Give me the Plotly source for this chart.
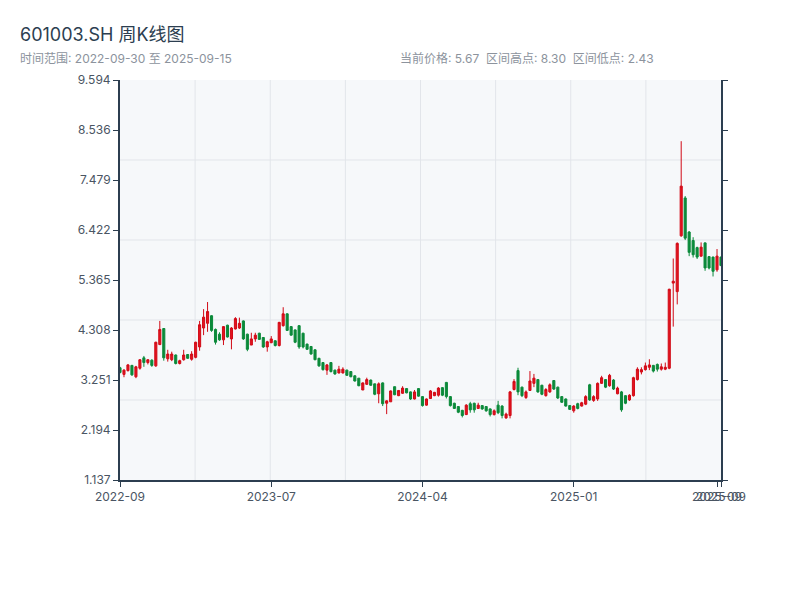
import plotly.graph_objects as go

# ---- data (weekly OHLC) ----
opens = [3.51,3.37,3.45,3.56,3.32,3.50,3.72,3.62,3.67,3.55,4.00,4.34,3.70,3.68,3.78,3.60,3.68,3.79,3.69,3.73,
         3.95,4.35,4.45,4.61,4.32,4.22,4.10,4.41,4.12,4.33,4.35,4.50,4.22,3.99,4.12,4.24,4.15,3.95,4.04,4.08,
         3.98,4.40,4.65,4.38,4.31,4.40,4.24,4.01,3.96,3.89,3.71,3.62,3.46,3.62,3.46,3.40,3.40,3.46,3.43,3.34,
         3.29,3.04,3.16,3.25,3.17,2.96,3.19,2.76,2.79,3.11,2.92,2.97,3.07,3.00,2.85,3.07,2.90,2.72,2.86,2.92,
         2.93,3.09,3.20,2.90,2.76,2.69,2.61,2.52,2.75,2.76,2.65,2.71,2.69,2.64,2.52,2.72,2.70,2.45,2.50,3.05,
         3.45,3.10,2.88,3.03,3.18,3.26,3.14,2.92,3.00,3.24,3.10,2.90,2.85,2.71,2.60,2.75,2.70,2.74,3.15,2.82,
         2.85,3.18,3.26,3.13,3.25,2.96,3.00,2.92,2.83,2.92,3.26,3.42,3.47,3.52,3.56,3.58,3.48,3.48,3.50,5.30,
         5.12,6.30,7.10,6.38,6.20,6.05,5.87,6.15,5.86,5.85,5.58,5.85]
highs = [3.53,3.48,3.59,3.57,3.55,3.69,3.76,3.69,3.69,4.06,4.50,4.35,3.89,3.85,3.79,3.68,3.89,3.80,3.86,4.06,
         4.50,4.75,4.90,4.62,4.34,4.26,4.39,4.42,4.37,4.58,4.57,4.51,4.23,4.25,4.25,4.25,4.16,4.08,4.18,4.09,
         4.48,4.79,4.66,4.39,4.32,4.41,4.25,4.02,3.97,3.90,3.72,3.63,3.59,3.63,3.47,3.55,3.52,3.47,3.43,3.35,
         3.29,3.20,3.30,3.26,3.17,3.20,3.20,2.82,3.03,3.11,3.04,3.12,3.08,3.01,3.04,3.08,2.91,2.86,3.04,3.00,
         3.10,3.10,3.21,2.91,2.77,2.70,2.62,2.74,2.79,2.77,2.77,2.72,2.70,2.65,2.63,2.81,2.72,2.56,3.02,3.27,
         3.51,3.11,3.03,3.44,3.38,3.27,3.15,3.08,3.18,3.25,3.11,2.91,2.86,2.72,2.72,2.77,2.79,2.93,3.17,2.93,
         3.20,3.34,3.27,3.38,3.27,3.11,3.02,2.93,2.95,3.32,3.52,3.52,3.62,3.69,3.57,3.60,3.60,3.62,5.18,5.82,
         6.16,8.30,7.14,6.40,6.27,6.07,6.16,6.16,5.87,5.86,6.02,5.86]
lows = [3.39,3.31,3.43,3.34,3.29,3.47,3.53,3.58,3.53,3.53,3.99,3.66,3.64,3.65,3.58,3.58,3.66,3.70,3.66,3.71,
        3.87,4.20,4.27,4.27,4.00,4.08,3.99,4.15,3.90,4.32,4.33,4.10,3.86,3.99,4.06,4.10,3.93,3.85,4.03,3.96,
        3.96,4.38,4.29,4.19,4.03,3.91,3.92,3.89,3.79,3.67,3.53,3.45,3.36,3.41,3.36,3.39,3.39,3.34,3.31,3.22,
        3.12,3.04,3.15,3.13,2.93,2.76,2.70,2.53,2.79,2.93,2.91,2.96,2.97,2.83,2.84,2.90,2.69,2.71,2.85,2.91,
        2.90,2.91,2.86,2.69,2.64,2.55,2.46,2.51,2.56,2.56,2.64,2.62,2.58,2.48,2.50,2.53,2.44,2.43,2.44,3.03,
        2.93,2.89,2.85,3.02,3.10,2.98,2.93,2.90,2.98,3.04,2.85,2.77,2.69,2.62,2.56,2.63,2.69,2.72,2.81,2.79,
        2.81,3.17,3.08,3.11,3.04,2.95,2.58,2.74,2.81,2.90,3.24,3.37,3.45,3.46,3.41,3.43,3.45,3.46,3.48,4.38,
        4.85,6.28,6.21,5.87,5.84,5.81,5.86,5.56,5.59,5.44,5.54,5.66]
closes = [3.41,3.46,3.57,3.36,3.53,3.68,3.62,3.68,3.56,4.05,4.32,3.72,3.80,3.80,3.60,3.66,3.78,3.71,3.80,4.05,
          4.42,4.58,4.70,4.30,4.05,4.10,4.38,4.16,4.35,4.55,4.45,4.12,3.90,4.12,4.20,4.11,3.95,4.06,4.12,3.98,
          4.47,4.65,4.30,4.20,4.05,3.95,3.95,3.90,3.80,3.68,3.55,3.47,3.57,3.43,3.38,3.48,3.48,3.35,3.32,3.23,
          3.13,3.19,3.26,3.14,2.95,3.17,2.75,2.81,3.02,2.94,3.03,3.08,2.98,2.85,3.00,2.91,2.71,2.85,3.02,2.99,
          3.08,2.93,2.90,2.71,2.65,2.57,2.50,2.72,2.62,2.62,2.72,2.64,2.60,2.52,2.60,2.56,2.50,2.53,3.00,3.22,
          3.00,2.92,3.00,3.23,3.29,3.00,2.95,3.05,3.15,3.06,2.87,2.78,2.70,2.63,2.70,2.65,2.77,2.90,2.83,2.90,
          3.18,3.30,3.10,3.35,3.06,3.08,2.62,2.76,2.93,3.30,3.48,3.47,3.55,3.57,3.44,3.48,3.53,3.52,5.17,5.34,
          6.14,7.35,6.25,5.95,5.90,5.85,6.06,5.62,5.62,5.55,5.87,5.67]

tick_index = [0, 38, 76, 114, 150, 151]
tick_labels = ["2022-09", "2023-07", "2024-04", "2025-01", "2025-09", "2025-09"]
y_ticks = [1.137, 2.194, 3.251, 4.308, 5.365, 6.422, 7.479, 8.536, 9.594]

title_text = "601003.SH 周K线图"
range_text = "时间范围: 2022-09-30 至 2025-09-15"
stats_text = "当前价格: 5.67&nbsp;&nbsp;区间高点: 8.30&nbsp;&nbsp;区间低点: 2.43"

# ---- figure ----
x = list(range(len(opens)))
RED = "#e3141f"
GREEN = "#0b8a3a"
AXIS = "#2c3e50"
FONT = "Inter, Noto Sans CJK SC, sans-serif"

fig = go.Figure(go.Candlestick(
    x=x, open=opens, high=highs, low=lows, close=closes,
    increasing=dict(line=dict(color="#d10a16", width=1), fillcolor=RED),
    decreasing=dict(line=dict(color=GREEN, width=1), fillcolor=GREEN),
    whiskerwidth=0, showlegend=False, hoverinfo="x+y",
))

OFF = 8  # page body margin
W, H = 800, 600
L, T = 120 - OFF, 80 - OFF
pw, ph = 601, 400
R = W - L - pw
B = H - T - ph

shapes = []
for k in range(1, 8):
    shapes.append(dict(type="line", xref="x domain", yref="y domain", x0=k / 8, x1=k / 8, y0=0, y1=1,
                       line=dict(color="#e2e5ea", width=1), layer="below"))
for k in range(1, 5):
    shapes.append(dict(type="line", xref="x domain", yref="y domain", x0=0, x1=1, y0=k / 5, y1=k / 5,
                       line=dict(color="#e2e5ea", width=1), layer="below"))

def px_x(p):
    return (p - OFF - L) / pw

def px_y(p):
    return (T + ph - (p - OFF)) / ph

fig.update_layout(
    width=W, height=H,
    margin=dict(l=L, r=R, t=T, b=B),
    paper_bgcolor="white",
    plot_bgcolor="#f6f8fa",
    boxgap=0.25,
    font=dict(family=FONT, color="#4a5563", size=12),
    title=dict(text=title_text, x=(20 - OFF) / W, xanchor="left", xref="container",
               y=1 - (35 - OFF) / H, yanchor="middle", yref="container",
               font=dict(size=18, color="#2c3e50", family=FONT)),
    shapes=shapes,
    annotations=[
        dict(text=range_text, xref="paper", yref="paper", x=px_x(18), y=px_y(58),
             xanchor="left", yanchor="middle", showarrow=False,
             font=dict(size=12, color="#8c939d", family=FONT)),
        dict(text=stats_text, xref="paper", yref="paper", x=px_x(398), y=px_y(58),
             xanchor="left", yanchor="middle", showarrow=False,
             font=dict(size=12, color="#8c939d", family=FONT)),
    ],
    xaxis=dict(
        range=[0, len(opens) - 1], rangeslider=dict(visible=False),
        tickmode="array", tickvals=tick_index, ticktext=tick_labels, tickangle=0,
        showgrid=False, zeroline=False,
        showline=True, linecolor=AXIS, linewidth=2,
        ticks="outside", ticklen=5, tickcolor=AXIS, tickwidth=1,
        tickfont=dict(size=12, color="#4a5563"),
    ),
    yaxis=dict(
        range=[y_ticks[0], y_ticks[-1]],
        tickmode="array", tickvals=y_ticks, ticktext=[f"{v:.3f}" for v in y_ticks],
        showgrid=False, zeroline=False,
        showline=True, linecolor=AXIS, linewidth=2, mirror="allticks",
        ticks="outside", ticklen=5, tickcolor=AXIS, tickwidth=1,
        tickfont=dict(size=12, color="#4a5563"),
    ),
)

fig.write_html("out.html")
